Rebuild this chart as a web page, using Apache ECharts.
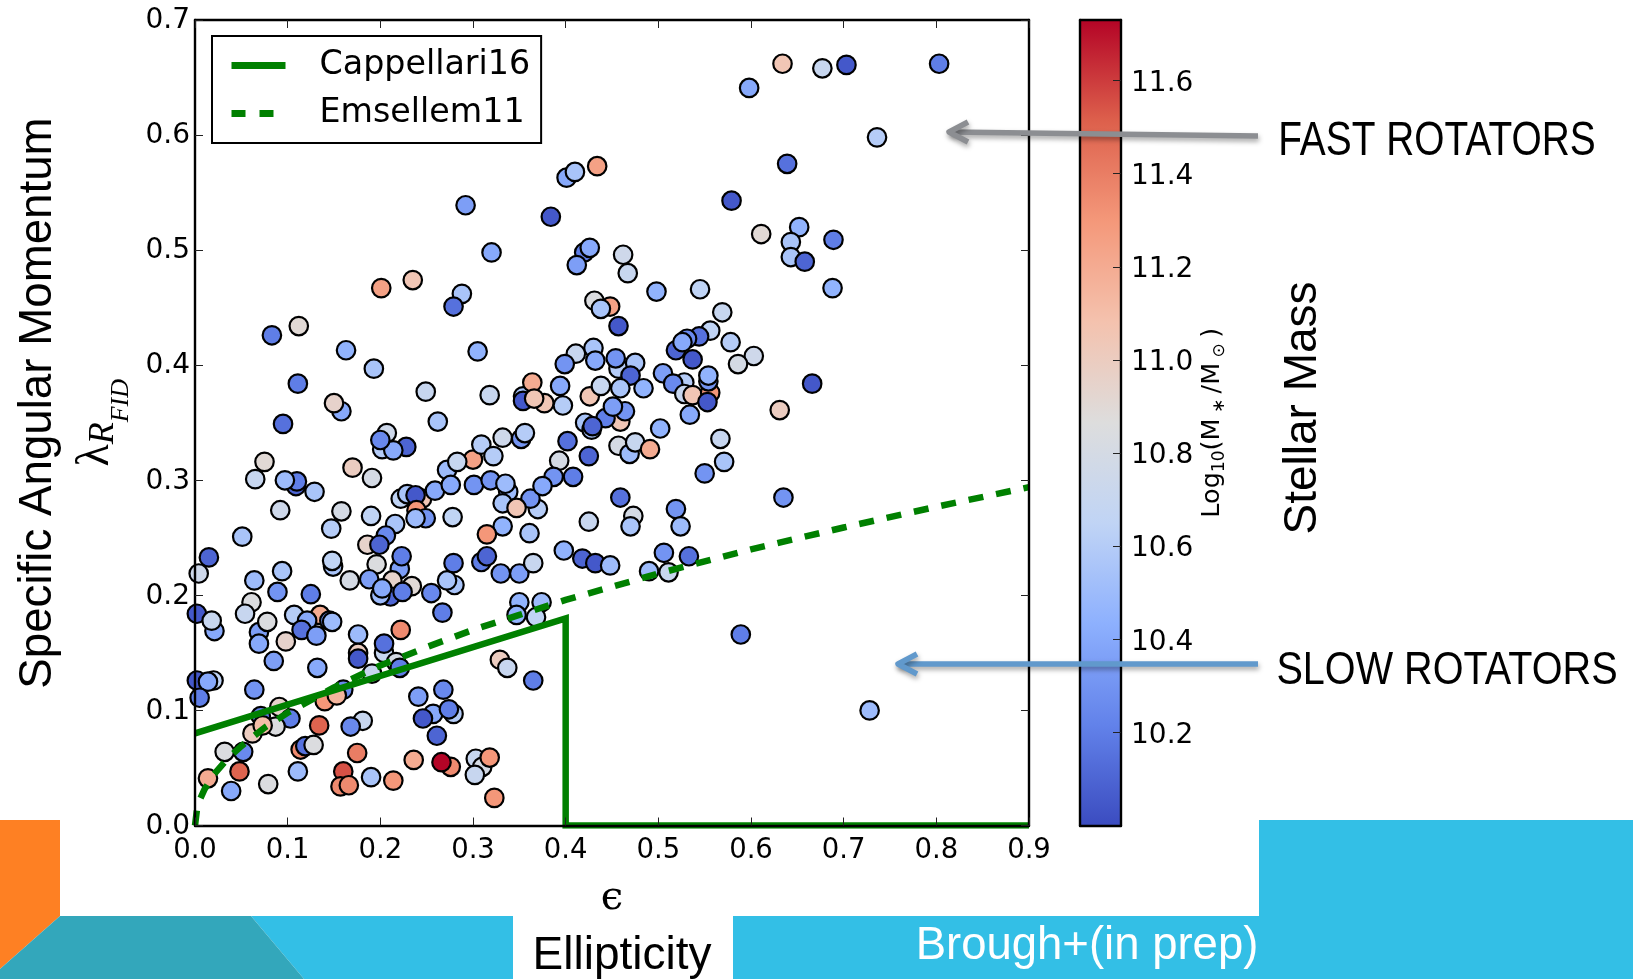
<!DOCTYPE html>
<html><head><meta charset="utf-8">
<style>html,body{margin:0;padding:0;background:#fff}#c{width:1633px;height:979px}</style>
<script src="https://cdn.jsdelivr.net/npm/echarts@6/dist/echarts.min.js"></script>
</head><body><div id="c"></div>
<script>
// [ellipticity, lambda_R_FID, log10 stellar mass]
const galaxiesUpper = [[.634,.662,11.05],[.677,.658,10.7],[.703,.661,10.05],[.803,.662,10.2],[.598,.641,10.4],[.736,.598,10.6],[.639,.575,10.15],[.579,.543,10.05],[.611,.514,10.9],[.652,.520,10.45],[.643,.507,10.55],[.643,.494,10.55],[.658,.490,10.1],[.689,.509,10.2],[.688,.467,10.45],[.462,.496,10.75],[.467,.480,10.7],[.498,.464,10.45],[.545,.466,10.65],[.569,.446,10.7],[.556,.430,10.65],[.578,.420,10.6],[.603,.408,10.75],[.586,.401,10.8],[.666,.384,10.05],[.631,.361,11.0],[.292,.539,10.35],[.320,.498,10.4],[.384,.529,10.05],[.401,.563,10.4],[.410,.568,10.55],[.434,.573,11.25],[.420,.498,10.2],[.426,.502,10.4],[.412,.487,10.35],[.448,.451,11.25],[.431,.456,10.85],[.438,.449,10.55],[.457,.434,10.05],[.201,.467,11.25],[.235,.474,11.05],[.288,.462,10.55],[.279,.451,10.15],[.083,.426,10.2],[.112,.434,10.9],[.163,.413,10.45],[.193,.397,10.55],[.111,.384,10.2],[.249,.377,10.7],[.305,.412,10.45],[.318,.374,10.7]];
const galaxiesMiddleLeft = [[.158,.360,10.4],[.150,.367,10.95],[.095,.349,10.15],[.207,.341,10.75],[.202,.327,10.6],[.228,.329,10.1],[.214,.326,10.4],[.200,.335,10.25],[.075,.316,10.9],[.170,.311,11.0],[.191,.302,10.8],[.065,.301,10.7],[.109,.295,10.1],[.110,.299,10.2],[.097,.300,10.5],[.129,.290,10.55],[.092,.274,10.75],[.158,.273,10.8],[.190,.269,10.65],[.051,.251,10.55],[.147,.258,10.6],[.216,.262,10.55],[.222,.284,10.65],[.229,.288,10.55],[.245,.284,11.05],[.238,.287,10.05],[.239,.274,11.3],[.249,.267,10.3],[.238,.267,10.5],[.259,.291,10.4],[.272,.309,10.5],[.300,.318,11.25],[.283,.316,10.7],[.276,.296,10.4],[.301,.296,10.3],[.319,.300,10.3],[.309,.331,10.6],[.322,.321,10.6],[.332,.337,10.75],[.352,.336,10.3],[.356,.341,10.6],[.402,.334,10.15],[.393,.317,10.8],[.387,.303,10.3],[.408,.303,10.2],[.425,.321,10.1],[.338,.290,10.5],[.335,.297,10.5],[.332,.280,10.55],[.370,.275,10.6],[.362,.284,10.3],[.347,.276,11.05],[.375,.295,10.4],[.332,.260,10.45],[.315,.253,11.3],[.361,.254,10.55],[.278,.268,10.65],[.425,.264,10.7],[.398,.239,10.45],[.262,.351,10.55]];
const galaxiesMiddleRight = [[.354,.373,10.55],[.354,.369,10.05],[.364,.385,11.2],[.394,.382,10.4],[.377,.367,11.05],[.366,.371,11.05],[.397,.365,10.6],[.426,.373,11.05],[.411,.410,10.7],[.399,.401,10.3],[.430,.415,10.55],[.432,.404,10.4],[.457,.397,10.6],[.475,.402,10.55],[.454,.406,10.3],[.470,.391,10.1],[.438,.382,10.7],[.459,.380,10.55],[.484,.380,10.45],[.459,.351,11.05],[.464,.360,10.3],[.443,.354,10.2],[.451,.364,10.35],[.421,.350,10.55],[.428,.344,10.55],[.429,.347,10.1],[.502,.345,10.45],[.457,.330,10.8],[.469,.323,10.5],[.475,.333,10.7],[.491,.327,11.2],[.567,.336,10.7],[.571,.316,10.55],[.550,.306,10.3],[.505,.393,10.35],[.528,.385,10.6],[.516,.384,10.25],[.528,.375,10.7],[.537,.374,11.05],[.519,.413,10.1],[.544,.425,10.15],[.531,.423,10.25],[.526,.420,10.4],[.537,.405,10.05],[.556,.376,11.3],[.554,.386,10.3],[.554,.391,10.45],[.553,.368,10.05],[.534,.357,10.4]];
const galaxiesLowerBand = [[.206,.252,10.25],[.186,.244,10.95],[.199,.244,10.1],[.196,.227,10.85],[.149,.225,10.55],[.148,.230,10.65],[.167,.213,10.8],[.188,.214,10.35],[.221,.223,10.35],[.223,.234,10.2],[.234,.208,10.9],[.213,.213,10.95],[.211,.199,10.1],[.200,.200,10.5],[.202,.206,10.4],[.224,.203,10.2],[.255,.202,10.25],[.280,.209,10.55],[.272,.213,10.55],[.279,.228,10.2],[.267,.185,10.2],[.309,.229,10.2],[.315,.234,10.1],[.330,.219,10.3],[.350,.219,10.35],[.365,.228,10.7],[.418,.232,10.1],[.432,.228,10.05],[.448,.226,10.5],[.459,.285,10.15],[.635,.285,10.3],[.473,.269,10.8],[.470,.260,10.55],[.519,.275,10.3],[.524,.260,10.5],[.506,.237,10.3],[.533,.234,10.15],[.490,.221,10.5],[.511,.220,10.7],[.589,.166,10.2],[.728,.100,10.5]];
const galaxiesBottom = [[.350,.194,10.45],[.374,.194,10.5],[.368,.181,10.65],[.347,.183,10.45],[.329,.144,11.0],[.337,.137,10.7],[.365,.126,10.2],[.222,.170,11.35],[.176,.166,10.5],[.204,.150,10.7],[.204,.158,10.15],[.176,.150,11.0],[.176,.145,10.05],[.217,.142,10.8],[.191,.132,10.7],[.221,.137,10.2],[.015,.233,10.1],[.004,.219,10.75],[.002,.184,10.05],[.021,.169,10.4],[.018,.178,10.7],[.064,.213,10.5],[.094,.221,10.55],[.061,.194,10.85],[.054,.184,10.7],[.089,.203,10.3],[.125,.201,10.2],[.107,.183,10.6],[.069,.168,10.35],[.069,.158,10.4],[.078,.177,10.85],[.098,.160,10.95],[.085,.143,10.35],[.135,.183,11.2],[.121,.178,10.4],[.115,.170,10.15],[.131,.165,10.35],[.145,.178,10.3],[.148,.177,10.5],[.132,.137,10.4],[.002,.126,10.05],[.020,.126,10.65],[.014,.125,10.4],[.005,.111,10.2],[.064,.118,10.3],[.091,.103,10.95],[.071,.095,10.2],[.103,.093,10.2],[.087,.086,10.85],[.062,.080,11.0],[.073,.087,11.1],[.052,.064,10.25],[.032,.064,10.85],[.014,.041,11.2],[.048,.047,11.5],[.039,.030,10.4],[.079,.036,10.85],[.111,.047,10.5],[.134,.087,11.5],[.114,.066,11.35],[.119,.069,10.15],[.128,.070,10.85],[.140,.108,11.3],[.160,.118,10.25],[.153,.113,11.15],[.181,.091,10.7],[.168,.086,10.25],[.175,.063,11.4],[.160,.047,11.55],[.157,.034,11.35],[.166,.035,11.35],[.190,.042,10.55],[.214,.039,11.3],[.236,.057,11.2],[.241,.112,10.35],[.268,.118,10.25],[.279,.097,10.6],[.257,.097,10.4],[.246,.093,10.05],[.274,.101,10.2],[.261,.078,10.1],[.276,.051,11.35],[.266,.055,11.73],[.303,.058,10.7],[.310,.051,10.8],[.302,.044,10.7],[.318,.059,11.3],[.323,.024,11.3]];

const cappellari16 = [[0,.08],[.4,.18],[.4,0],[.9,0]];
const emsellem11 = [[0,0],[.002,.013],[.005,.022],[.01,.031],[.02,.044],[.035,.058],[.05,.069],[.075,.085],[.1,.098],[.15,.12],[.2,.139],[.25,.155],[.3,.17],[.35,.183],[.4,.196],[.5,.219],[.6,.24],[.7,.259],[.8,.277],[.9,.294]];

const massRange = [10, 11.73];
const coolwarm = ['#3b4cc0','#6282ea','#8db0fe','#c0d4f5','#dddddd','#f4c2ae','#f4987a','#dd604c','#b40426'];

const galaxies = [].concat(galaxiesUpper, galaxiesMiddleLeft, galaxiesMiddleRight, galaxiesLowerBand, galaxiesBottom);
const axisLine = {show:true, onZero:false, lineStyle:{color:'#000', width:2.4}};
const tick = {show:true, inside:true, length:8, lineStyle:{color:'#222', width:1}};
const tickFont = size => ({color:'#000', fontFamily:'DejaVu Sans', fontSize:size});
const fmt = v => v.toFixed(1);
const SANS = '"Liberation Sans"';

function slideText(text, x, y, size, color, rotation, scaleX){
  return {type:'text', x, y, rotation:rotation||0, scaleX:scaleX||1, z:100, silent:true,
    style:{text, fontSize:size, fontFamily:SANS, fill:color||'#000', align:'center', verticalAlign:'middle'}};
}
function arrow(points, color){
  const sh = {shadowBlur:5, shadowOffsetX:1, shadowOffsetY:3, shadowColor:'rgba(0,0,0,0.35)'};
  return {type:'polyline', z:90, silent:true, shape:{points},
    style:Object.assign({stroke:color, lineWidth:5.5, fill:null, lineCap:'butt', lineJoin:'round'}, sh)};
}

const option = {
  animation:false, backgroundColor:'#fff',
  grid:[
    {left:195, top:20, width:834, height:805.5},
    {left:1080, top:20, width:41, height:805.5}
  ],
  xAxis:[
    {gridIndex:0, type:'value', position:'bottom', min:0, max:.9, interval:.1, z:5, axisLine, axisTick:tick, splitLine:{show:false},
      axisLabel:Object.assign({formatter:fmt, margin:11, showMinLabel:true, showMaxLabel:true}, tickFont(27.5)),
      name:'\u03F5', nameLocation:'middle', nameGap:53, nameTextStyle:{fontFamily:'DejaVu Serif', fontSize:40, color:'#000'}},
    {gridIndex:0, type:'value', position:'top', min:0, max:.9, interval:.1, z:5, axisLine, axisTick:tick, axisLabel:{show:false}, splitLine:{show:false}},
    {gridIndex:1, type:'category', position:'bottom', data:['mass'], z:5, axisLine, axisTick:{show:false}, axisLabel:{show:false}},
    {gridIndex:1, type:'category', position:'top', data:['mass'], z:5, axisLine, axisTick:{show:false}, axisLabel:{show:false}}
  ],
  yAxis:[
    {gridIndex:0, type:'value', position:'left', min:0, max:.7, interval:.1, z:5, axisLine, axisTick:tick, splitLine:{show:false},
      axisLabel:Object.assign({formatter:fmt, margin:5, verticalAlign:'bottom', padding:[0,0,-15,0], showMinLabel:true, showMaxLabel:true}, tickFont(28)),
      name:'{a|\u03BB}{b|R}{c|FID}', nameLocation:'middle', nameRotate:90, nameGap:54,
      nameTextStyle:{rich:{
        a:{fontFamily:'"Liberation Serif"', fontSize:46, color:'#000', verticalAlign:'top', lineHeight:62},
        b:{fontFamily:'"Liberation Serif"', fontStyle:'italic', fontSize:36, color:'#000', verticalAlign:'middle', lineHeight:62},
        c:{fontFamily:'"Liberation Serif"', fontStyle:'italic', fontSize:26, color:'#000', verticalAlign:'bottom', lineHeight:62}
      }}},
    {gridIndex:0, type:'value', position:'right', min:0, max:.7, interval:.1, z:5, axisLine, axisTick:tick, axisLabel:{show:false}, splitLine:{show:false}},
    {gridIndex:1, type:'value', position:'right', min:massRange[0], max:massRange[1], interval:.2, z:5, axisLine, axisTick:tick, splitLine:{show:false},
      axisLabel:Object.assign({formatter:fmt, margin:10, verticalAlign:'bottom', padding:[0,0,-17,0], showMinLabel:false, showMaxLabel:false}, tickFont(28)),
      name:'{n|Log}{s|10}{n|(M}{s| \u2217 }{n|/M}{s| \u2299 }{n|)}', nameLocation:'middle', nameRotate:90, nameGap:75,
      nameTextStyle:{rich:{
        n:{fontFamily:'DejaVu Sans', fontSize:25.5, color:'#000'},
        s:{fontFamily:'DejaVu Sans', fontSize:17, color:'#000', verticalAlign:'bottom', lineHeight:32}
      }}},
    {gridIndex:1, type:'value', position:'left', min:massRange[0], max:massRange[1], z:5, axisLine, axisTick:{show:false}, axisLabel:{show:false}, splitLine:{show:false}}
  ],
  visualMap:{type:'continuous', show:false, seriesIndex:0, dimension:2, min:massRange[0], max:massRange[1], inRange:{color:coolwarm}},
  legend:{
    orient:'vertical', left:212, top:36, selectedMode:false,
    data:[
      {name:'Cappellari16', itemStyle:{opacity:0}, lineStyle:{width:7, color:'#008000'}},
      {name:'Emsellem11', itemStyle:{opacity:0}, lineStyle:{width:7, color:'#008000', type:[14,14]}}
    ],
    padding:[13,11,13,16], itemWidth:54, itemHeight:33, itemGap:15,
    borderColor:'#000', borderWidth:2, backgroundColor:'#fff', z:6,
    textStyle:{fontFamily:'DejaVu Sans', fontSize:33.3, color:'#000', padding:[0,0,0,29]}
  },
  series:[
    {type:'scatter', name:'Galaxies', xAxisIndex:0, yAxisIndex:0, data:galaxies, clip:true, symbolSize:18.5,
      itemStyle:{borderColor:'#000', borderWidth:2.2, opacity:1}, emphasis:{disabled:true}, z:2},
    {type:'line', name:'Cappellari16', xAxisIndex:0, yAxisIndex:0, data:cappellari16, symbol:'none', lineStyle:{color:'#008000', width:6.5, join:'miter'}, itemStyle:{color:'#008000'}, z:3},
    {type:'line', name:'Emsellem11', xAxisIndex:0, yAxisIndex:0, data:emsellem11, symbol:'none', lineStyle:{color:'#008000', width:6.5, type:[15,13]}, itemStyle:{color:'#008000'}, z:3},
    {type:'bar', name:'colorbar', xAxisIndex:2, yAxisIndex:2, data:[massRange[1]], barWidth:'100%', silent:true,
      itemStyle:{color:new echarts.graphic.LinearGradient(0,1,0,0, coolwarm.map((c,i)=>({offset:i/(coolwarm.length-1), color:c})))}, z:2}
  ],
  graphic:{elements:[
    {type:'polygon', z:-5, silent:true, shape:{points:[[0,820],[60,820],[60,916],[0,969]]}, style:{fill:'#FE8023'}},
    {type:'polygon', z:-5, silent:true, shape:{points:[[251,916],[513,916],[513,979],[304,979]]}, style:{fill:'#33BFE6'}},
    {type:'polygon', z:-5, silent:true, shape:{points:[[60,916],[251,916],[304,979],[0,979],[0,969]]}, style:{fill:'#33A7BB'}},
    {type:'polygon', z:-5, silent:true, shape:{points:[[733,916],[1259,916],[1259,820],[1633,820],[1633,979],[733,979]]}, style:{fill:'#33BFE6'}},
    slideText('Specific Angular Momentum', 38, 403, 45.7, '#000', Math.PI/2),
    slideText('Stellar Mass', 1303, 408, 46, '#000', Math.PI/2),
    slideText('FAST ROTATORS', 1437, 142, 48, '#000', 0, .81),
    slideText('SLOW ROTATORS', 1447, 671, 47, '#000', 0, .843),
    slideText('Ellipticity', 622, 956, 46),
    slideText('Brough+(in prep)', 1087, 946, 45.5, '#fff'),
    arrow([[1258,136],[950,132]], '#8C8E92'),
    arrow([[968,122],[949,132],[968,142]], '#8C8E92'),
    arrow([[1258,664],[898,664]], '#6199CC'),
    arrow([[917,654],[898,664],[917,674]], '#6199CC')
  ]}
};
echarts.init(document.getElementById('c'), null, {renderer:'canvas'}).setOption(option);
</script></body></html>
